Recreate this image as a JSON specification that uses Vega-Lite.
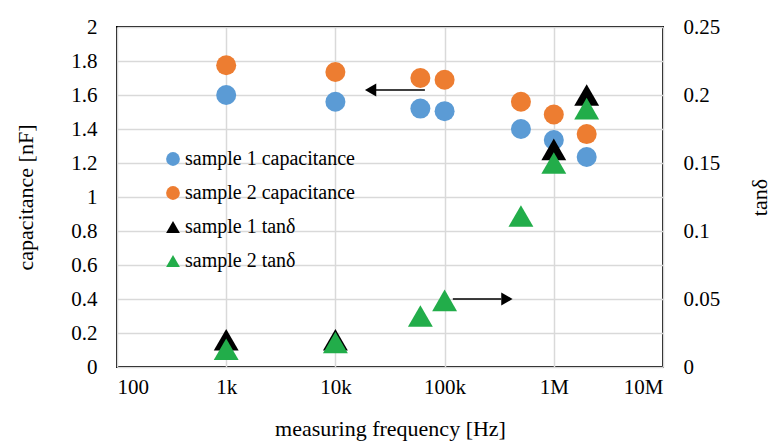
{
  "$schema": "https://vega.github.io/schema/vega-lite/v6.json",
  "autosize": {"type": "none"},
  "width": 546,
  "height": 340,
  "padding": {"left": 117, "top": 27, "right": 116, "bottom": 76},
  "background": "white",
  "config": {
    "font": "Liberation Serif, Times New Roman, DejaVu Serif, serif",
    "view": {"stroke": "black", "strokeWidth": 2},
    "axis": {"labelFont": "Liberation Serif, Times New Roman, DejaVu Serif, serif", "titleFont": "Liberation Serif, Times New Roman, DejaVu Serif, serif", "labelColor": "black", "titleColor": "black", "titleFontWeight": "normal", "domain": false},
    "legend": {"labelFont": "Liberation Serif, Times New Roman, DejaVu Serif, serif", "labelLimit": 400}
  },
  "datasets": {
    "cap": [
      {"freq": 1000, "value": 1.60, "series": "sample 1 capacitance"},
      {"freq": 10000, "value": 1.56, "series": "sample 1 capacitance"},
      {"freq": 60000, "value": 1.52, "series": "sample 1 capacitance"},
      {"freq": 100000, "value": 1.505, "series": "sample 1 capacitance"},
      {"freq": 500000, "value": 1.40, "series": "sample 1 capacitance"},
      {"freq": 1000000, "value": 1.335, "series": "sample 1 capacitance"},
      {"freq": 2000000, "value": 1.235, "series": "sample 1 capacitance"},
      {"freq": 1000, "value": 1.775, "series": "sample 2 capacitance"},
      {"freq": 10000, "value": 1.735, "series": "sample 2 capacitance"},
      {"freq": 60000, "value": 1.70, "series": "sample 2 capacitance"},
      {"freq": 100000, "value": 1.69, "series": "sample 2 capacitance"},
      {"freq": 500000, "value": 1.56, "series": "sample 2 capacitance"},
      {"freq": 1000000, "value": 1.485, "series": "sample 2 capacitance"},
      {"freq": 2000000, "value": 1.37, "series": "sample 2 capacitance"}
    ],
    "tan": [
      {"freq": 1000, "value": 0.020, "series": "sample 1 tanδ"},
      {"freq": 10000, "value": 0.020, "series": "sample 1 tanδ"},
      {"freq": 1000000, "value": 0.160, "series": "sample 1 tanδ"},
      {"freq": 2000000, "value": 0.200, "series": "sample 1 tanδ"},
      {"freq": 1000, "value": 0.013, "series": "sample 2 tanδ"},
      {"freq": 10000, "value": 0.018, "series": "sample 2 tanδ"},
      {"freq": 60000, "value": 0.0375, "series": "sample 2 tanδ"},
      {"freq": 100000, "value": 0.049, "series": "sample 2 tanδ"},
      {"freq": 500000, "value": 0.111, "series": "sample 2 tanδ"},
      {"freq": 1000000, "value": 0.150, "series": "sample 2 tanδ"},
      {"freq": 2000000, "value": 0.190, "series": "sample 2 tanδ"}
    ],
    "arrows": [
      {"from": 22000, "to": 66000, "y": 1.63, "head": 21000, "dir": "left"},
      {"from": 119000, "to": 330000, "y": 0.40, "head": 372000, "dir": "right"}
    ]
  },
  "layer": [
    {
      "data": {"name": "cap"},
      "mark": {"type": "point", "filled": true, "opacity": 1, "size": 400},
      "encoding": {
        "x": {
          "field": "freq", "type": "quantitative",
          "scale": {"type": "log", "domain": [100, 10000000]},
          "axis": {
            "values": [100, 1000, 10000, 100000, 1000000, 10000000],
            "labelExpr": "datum.value == 100 ? '100' : datum.value == 1000 ? '1k' : datum.value == 10000 ? '10k' : datum.value == 100000 ? '100k' : datum.value == 1000000 ? '1M' : '10M'",
            "title": "measuring frequency [Hz]",
            "titleFontSize": 22, "labelFontSize": 21, "labelPadding": 9, "titlePadding": 21,
            "ticks": false, "grid": true, "gridColor": "#d9d9d9", "gridWidth": 1.5
          }
        },
        "y": {
          "field": "value", "type": "quantitative",
          "scale": {"domain": [0, 2], "nice": false},
          "axis": {
            "orient": "left", "values": [0, 0.2, 0.4, 0.6, 0.8, 1, 1.2, 1.4, 1.6, 1.8, 2], "format": "~g",
            "title": "capacitance [nF]", "titleFontSize": 22, "labelFontSize": 21,
            "ticks": false, "labelPadding": 20, "titlePadding": 33,
            "grid": true, "gridColor": "#d9d9d9", "gridWidth": 1.5
          }
        },
        "color": {
          "field": "series", "type": "nominal",
          "scale": {"domain": ["sample 1 capacitance", "sample 2 capacitance", "sample 1 tanδ", "sample 2 tanδ"], "range": ["#5b9bd5", "#ed7d31", "#000000", "#22ad4a"]},
          "legend": {
            "orient": "none", "legendX": 46, "legendY": 122, "title": null,
            "labelFontSize": 20, "labelColor": "black",
            "symbolSize": 190, "rowPadding": 14, "labelOffset": 2, "padding": 0, "symbolStrokeWidth": 0
          }
        },
        "shape": {
          "field": "series", "type": "nominal",
          "scale": {"domain": ["sample 1 capacitance", "sample 2 capacitance", "sample 1 tanδ", "sample 2 tanδ"], "range": ["circle", "circle", "triangle-up", "triangle-up"]},
          "legend": {
            "orient": "none", "legendX": 46, "legendY": 122, "title": null,
            "labelFontSize": 20, "labelColor": "black",
            "symbolSize": 190, "rowPadding": 14, "labelOffset": 2, "padding": 0, "symbolStrokeWidth": 0
          }
        }
      }
    },
    {
      "data": {"name": "tan"},
      "mark": {"type": "point", "filled": true, "opacity": 1, "size": 620},
      "encoding": {
        "x": {"field": "freq", "type": "quantitative", "scale": {"type": "log", "domain": [100, 10000000]}},
        "y": {
          "field": "value", "type": "quantitative",
          "scale": {"domain": [0, 0.25], "nice": false},
          "axis": {
            "orient": "right", "values": [0, 0.05, 0.1, 0.15, 0.2, 0.25], "format": "~g",
            "title": "tanδ", "titleAngle": 270, "titleFontSize": 22, "labelFontSize": 21,
            "ticks": false, "labelPadding": 20, "titlePadding": 52,
            "grid": false
          }
        },
        "color": {"field": "series", "type": "nominal"},
        "shape": {"field": "series", "type": "nominal"}
      }
    },
    {
      "data": {"name": "arrows"},
      "mark": {"type": "rule", "color": "black", "strokeWidth": 1.5},
      "encoding": {
        "x": {"field": "from", "type": "quantitative", "scale": {"type": "log", "domain": [100, 10000000]}},
        "x2": {"field": "to"},
        "y": {"field": "y", "type": "quantitative", "scale": {"domain": [0, 2], "nice": false}, "axis": null}
      }
    },
    {
      "data": {"name": "arrows"},
      "transform": [{"filter": "datum.dir == 'left'"}],
      "mark": {"type": "point", "filled": true, "opacity": 1, "color": "black", "size": 170, "shape": "triangle-left"},
      "encoding": {
        "x": {"field": "head", "type": "quantitative", "scale": {"type": "log", "domain": [100, 10000000]}},
        "y": {"field": "y", "type": "quantitative", "scale": {"domain": [0, 2], "nice": false}, "axis": null}
      }
    },
    {
      "data": {"name": "arrows"},
      "transform": [{"filter": "datum.dir == 'right'"}],
      "mark": {"type": "point", "filled": true, "opacity": 1, "color": "black", "size": 170, "shape": "triangle-right"},
      "encoding": {
        "x": {"field": "head", "type": "quantitative", "scale": {"type": "log", "domain": [100, 10000000]}},
        "y": {"field": "y", "type": "quantitative", "scale": {"domain": [0, 2], "nice": false}, "axis": null}
      }
    }
  ],
  "resolve": {"scale": {"y": "independent"}}
}
